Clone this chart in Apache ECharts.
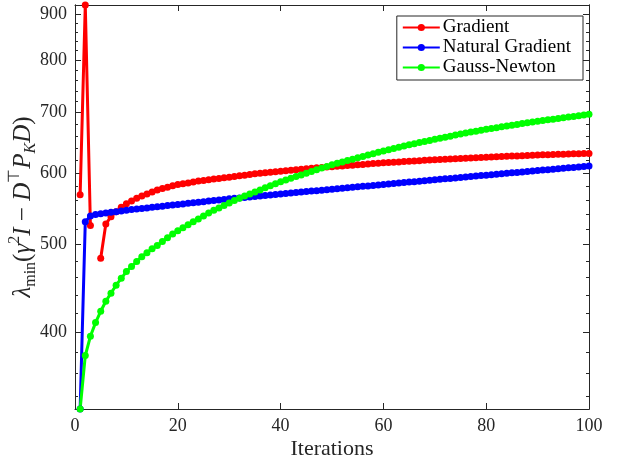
<!DOCTYPE html>
<html>
<head>
<meta charset="utf-8">
<script src="https://cdn.jsdelivr.net/npm/echarts@6/dist/echarts.min.js"></script>
<style>html,body{margin:0;padding:0;background:#fff}#c{width:619px;height:462px}</style>
</head>
<body>
<div id="c"></div>
<script>
// Iterations 1..100
const iterations = Array.from({length: 100}, (_, i) => i + 1);

const gradient = [
  568, 921, 525, null, 483, 527, 537, 544, 550, 555,
  559, 563, 566, 569, 572, 575, 577, 579, 581, 583,
  584, 585, 586.5, 588, 589, 590, 591, 592, 593, 594,
  595, 596, 597, 598, 599, 599.8, 600.6, 601.4, 602.2, 603,
  603.8, 604.6, 605.4, 606.2, 607, 607.6, 608.2, 608.8, 609.4, 610,
  610.6, 611.2, 611.8, 612.4, 613, 613.6, 614.2, 614.8, 615.4, 616,
  616.5, 617, 617.5, 618, 618.5, 619, 619.5, 620, 620.5, 621,
  621.4, 621.8, 622.2, 622.6, 623, 623.4, 623.8, 624.2, 624.6, 625,
  625.4, 625.7, 626, 626.4, 626.7, 627, 627.4, 627.7, 628, 628.5,
  628.8, 629, 629.3, 629.5, 629.8, 630, 630.3, 630.5, 630.8, 631
];

const naturalGradient = [
  329, 530, 538, 540, 541, 542, 543, 544, 545, 546,
  546.8, 547.6, 548.4, 549.2, 550, 550.8, 551.6, 552.4, 553.2, 554,
  554.8, 555.6, 556.4, 557.2, 558, 558.8, 559.6, 560.4, 561.2, 562,
  562.7, 563.4, 564.1, 564.8, 565.5, 566.2, 566.9, 567.6, 568.3, 569,
  569.7, 570.4, 571.1, 571.8, 572.5, 573.2, 573.9, 574.6, 575.3, 576,
  576.7, 577.4, 578.1, 578.8, 579.5, 580.2, 580.9, 581.6, 582.3, 583,
  583.7, 584.4, 585.1, 585.8, 586.5, 587.2, 587.9, 588.6, 589.3, 590,
  590.7, 591.4, 592.1, 592.8, 593.5, 594.2, 594.9, 595.6, 596.3, 597,
  597.7, 598.4, 599.1, 599.8, 600.5, 601.2, 601.9, 602.6, 603.3, 604,
  604.7, 605.4, 606.1, 606.8, 607.5, 608.2, 608.9, 609.6, 610.3, 611
];

const gaussNewton = [
  329, 377, 396, 410, 422, 433, 442, 451, 459, 467,
  473, 479, 485, 490, 495, 499, 504, 509, 514, 518,
  522, 526, 530, 534, 538, 542, 546, 549, 552.5, 556,
  559.5, 563, 566, 569, 572, 575, 578, 581, 584, 587,
  589.6, 592.2, 594.8, 597.4, 600, 602.6, 605.2, 607.8, 610.4, 613,
  615.2, 617.4, 619.6, 621.8, 624, 626.2, 628.4, 630.6, 632.8, 635,
  637, 639, 641, 643, 645, 646.8, 648.6, 650.4, 652.2, 654,
  655.8, 657.6, 659.4, 661.2, 663, 664.6, 666.2, 667.8, 669.4, 671,
  672.4, 673.8, 675.2, 676.6, 678, 679.4, 680.8, 682.2, 683.6, 685,
  686.2, 687.4, 688.6, 689.8, 691, 692.2, 693.4, 694.6, 695.8, 697
];

const seriesNames = ['Gradient', 'Natural Gradient', 'Gauss-Newton'];
const seriesColors = ['#ff0000', '#0000ff', '#00ff00'];
const yTickLabels = [400, 500, 600, 700, 800, 900];
const yMinorTicks = [340, 360, 380, 420, 440, 460, 480, 520, 540, 560, 580, 620, 640, 660, 680, 720, 740, 760, 780, 820, 840, 860, 880, 920];
const xTicks = [0, 20, 40, 60, 80, 100];

const yMin = 329, yMax = 921;
const FONT = '"Liberation Serif", "Times New Roman", serif';
const TXT = '#262626';

function pairs(vals) { return iterations.map((x, i) => [x, vals[i]]); }

const chart = echarts.init(document.getElementById('c'), null, {renderer: 'canvas'});

const axisLineStyle = {show: true, onZero: false, lineStyle: {color: TXT, width: 1}};

const yBase = (pos, showLabels, ticks, len, extra) => Object.assign({
  type: 'log', logBase: 10, min: yMin, max: yMax, position: pos,
  axisLine: axisLineStyle,
  axisTick: {show: true, inside: true, length: len, customValues: ticks, lineStyle: {color: TXT}},
  axisLabel: showLabels ? {show: true, customValues: yTickLabels, fontFamily: FONT, fontSize: 18, color: TXT, margin: 8} : {show: false},
  splitLine: {show: false}, minorTick: {show: false}
}, extra || {});

const option = {
  animation: false,
  backgroundColor: '#fff',
  grid: {left: 75, right: 30, top: 5, bottom: 53, containLabel: false, outerBoundsMode: 'none'},
  legend: {
    orient: 'vertical', right: 36, top: 16,
    data: seriesNames,
    backgroundColor: '#fff', borderColor: TXT, borderWidth: 1,
    padding: [2, 12, 3, 5], itemGap: 1, itemWidth: 37, itemHeight: 9,
    textStyle: {fontFamily: FONT, fontSize: 19, color: '#000', padding: [0, 0, 0, -2]}
  },
  xAxis: [
    {type: 'value', min: 0, max: 100, interval: 20, position: 'bottom',
     name: 'Iterations', nameLocation: 'middle', nameGap: 29, nameMoveOverlap: false,
     nameTextStyle: {fontFamily: FONT, fontSize: 22, color: TXT},
     axisLine: axisLineStyle,
     axisTick: {show: true, inside: true, length: 6, lineStyle: {color: TXT}},
     axisLabel: {fontFamily: FONT, fontSize: 18, color: TXT, margin: 8},
     splitLine: {show: false}},
    {type: 'value', min: 0, max: 100, interval: 20, position: 'top',
     axisLine: axisLineStyle,
     axisTick: {show: true, inside: true, length: 6, lineStyle: {color: TXT}},
     axisLabel: {show: false}, splitLine: {show: false}}
  ],
  yAxis: [
    yBase('left', true, yTickLabels, 6, {
      name: '{it|λ}{sub|min}{n|(}{it|γ}{sup|2}{it|I}{n| − }{it|D}{sup|⊤}{it|P}{subit|K}{it|D}{n|)}',
      nameLocation: 'middle', nameRotate: 90, nameGap: 36, nameMoveOverlap: false,
      nameTextStyle: {
        color: TXT,
        rich: {
          n: {fontFamily: FONT, fontSize: 25, lineHeight: 32, color: TXT},
          it: {fontFamily: FONT, fontStyle: 'italic', fontSize: 25, lineHeight: 32, color: TXT},
          sub: {fontFamily: FONT, fontSize: 16, lineHeight: 18, verticalAlign: 'bottom', color: TXT},
          subit: {fontFamily: FONT, fontStyle: 'italic', fontSize: 16, lineHeight: 18, verticalAlign: 'bottom', color: TXT},
          sup: {fontFamily: FONT, fontSize: 16, lineHeight: 18, verticalAlign: 'top', color: TXT}
        }
      }
    }),
    yBase('left', false, yMinorTicks, 3),
    yBase('right', false, yTickLabels, 6),
    yBase('right', false, yMinorTicks, 3)
  ],
  series: [gradient, naturalGradient, gaussNewton].map((vals, i) => ({
    name: seriesNames[i], type: 'line', xAxisIndex: 0, yAxisIndex: 0,
    data: pairs(vals), connectNulls: false, clip: false,
    symbol: 'circle', symbolSize: 7, showSymbol: true,
    lineStyle: {color: seriesColors[i], width: 3},
    itemStyle: {color: seriesColors[i]}
  }))
};

chart.setOption(option);
</script>
</body>
</html>
